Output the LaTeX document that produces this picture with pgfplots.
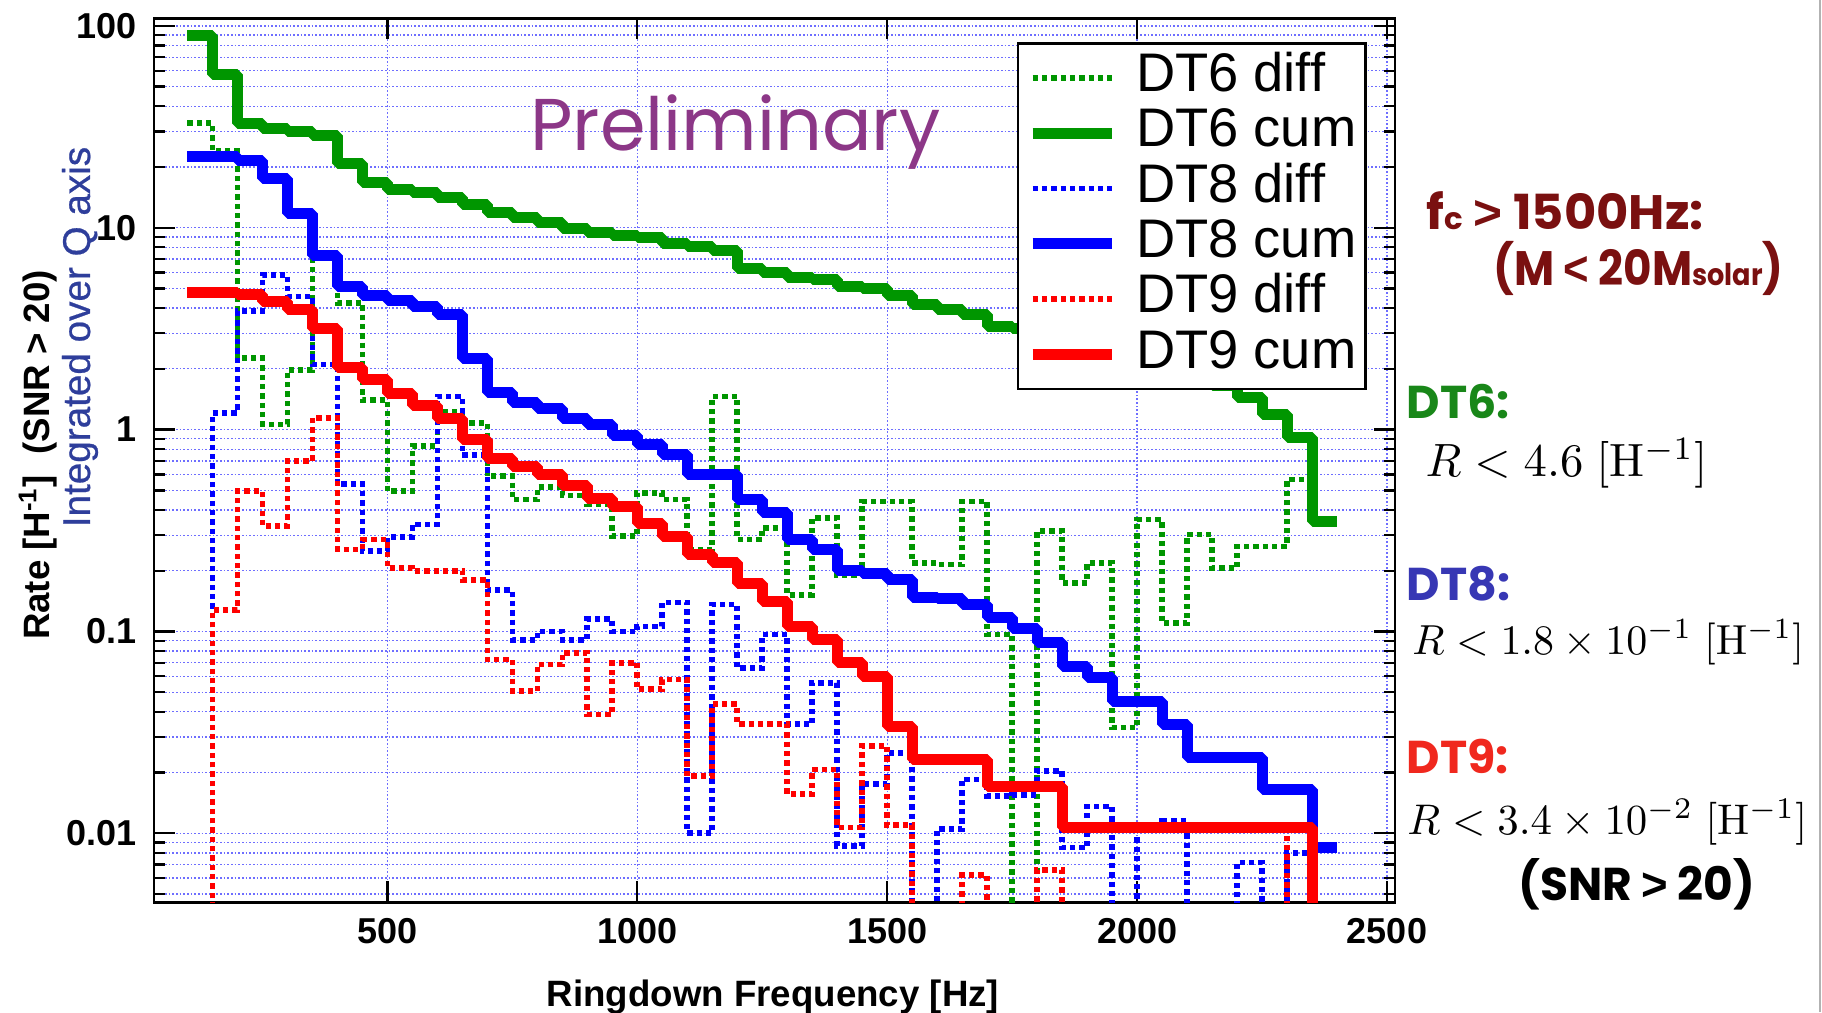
\documentclass[border=0pt]{standalone}
\usepackage[no-math]{fontspec}
\setmainfont{Liberation Sans}
\newfontfamily\popfont{Poppins}
\newfontfamily\libfont{Liberation Sans}
\newfontfamily\medfont{Liberation Sans}[FakeBold=0.6]
\usepackage{graphicx}
\usepackage{pgfplots}
\usepackage{pgfplotstable}
\pgfplotsset{compat=1.18}

\definecolor{cgreen}{RGB}{0,150,0}
\definecolor{cblue}{RGB}{0,0,255}
\definecolor{cred}{RGB}{255,0,0}
\definecolor{gridblue}{RGB}{110,110,255}
\definecolor{prelim}{RGB}{140,55,135}
\definecolor{annred}{RGB}{122,16,16}
\definecolor{anngreen}{RGB}{25,135,25}
\definecolor{annblue}{RGB}{55,55,180}
\definecolor{annred2}{RGB}{240,40,30}
\definecolor{labblue}{RGB}{46,62,155}

% rates per 50 Hz bin (left bin edge); 1e-4 marks an empty bin
\pgfplotstableread{
f     dtsixd  dtsixc  dteightd dteightc dtnined dtninec
100   33      89.6    1e-4     22.5     1e-4    4.79
150   24      57.2    1.21     22.5     0.128   4.79
200   2.26    33.0    3.86     21.5     0.495   4.69
250   1.06    31.2    5.85     17.6     0.333   4.3
300   1.98    30.0    4.57     11.7     0.70    3.95
350   7.1     28.5    2.1      7.26     1.14    3.18
400   4.24    20.7    0.537    5.12     0.255   2.02
450   1.40    16.8    0.25     4.6      0.285   1.77
500   0.495   15.4    0.294    4.37     0.206   1.51
550   0.83    14.9    0.339    4.08     0.20    1.32
600   1.22    14.2    1.46     3.71     0.20    1.14
650   1.08    13.0    0.75     2.26     0.18    0.89
700   0.59    11.9    0.16     1.52     0.0726  0.72
750   0.45    11.2    0.091    1.36     0.0507  0.66
800   0.52    10.6    0.10     1.27     0.0687  0.60
850   0.472   9.9     0.091    1.14     0.0785  0.53
900   0.425   9.5     0.115    1.06     0.0388  0.455
950   0.297   9.2     0.10     0.94     0.07    0.417
1000  0.486   8.9     0.106    0.84     0.0517  0.343
1050  0.45    8.4     0.139    0.75     0.0578  0.294
1100  0.255   8.07    0.01     0.60     0.0192  0.24
1150  1.46    7.72    0.136    0.60     0.0436  0.219
1200  0.285   6.3     0.066    0.45     0.0347  0.173
1250  0.326   5.97    0.0966   0.387    0.0347  0.141
1300  0.152   5.68    0.0347   0.285    0.0156  0.106
1350  0.366   5.55    0.0557   0.255    0.0207  0.091
1400  0.19    5.13    0.00865  0.20     0.0107  0.070
1450  0.44    5.0     0.0175   0.194    0.027   0.060
1500  0.44    4.6     0.025    0.18     0.011   0.034
1550  0.219   4.18    1e-4     0.148    1e-4    0.0232
1600  0.215   3.93    0.0105   0.145    1e-4    0.0232
1650  0.44    3.7     0.0185   0.136    0.0062  0.0232
1700  0.0966  3.25    0.0153   0.117    1e-4    0.0171
1750  1e-4    3.16    0.0155   0.104    1e-4    0.0171
1800  0.314   3.16    0.0204   0.0885   0.0066  0.0171
1850  0.174   2.85    0.0085   0.0673   1e-4    0.0107
1900  0.219   2.67    0.0136   0.059    1e-4    0.0107
1950  0.0334  2.45    1e-4     0.0452   1e-4    0.0107
2000  0.358   2.42    0.011    0.0452   1e-4    0.0107
2050  0.11    2.06    0.0115   0.0347   1e-4    0.0107
2100  0.302   1.95    1e-4     0.0237   1e-4    0.0107
2150  0.206   1.65    1e-4     0.0237   1e-4    0.0107
2200  0.264   1.44    0.00716  0.0237   1e-4    0.0107
2250  0.264   1.19    1e-4     0.0165   1e-4    0.0107
2300  0.565   0.91    0.008    0.0165   0.0107  0.0107
2350  0.35    0.35    0.0085   0.0085   1e-4    1e-4
2400  0.35    0.35    0.0085   0.0085   1e-4    1e-4
}\rates

\pgfplotsset{
  diff/.style={const plot, no marks, line width=1.7pt, dash pattern=on 1.6pt off 1.2pt},
  cum/.style={const plot, no marks, line width=3.3pt, line join=bevel},
}

\begin{document}
\begin{tikzpicture}
\useasboundingbox (0,0) rectangle (546.6pt,303.6pt);
\begin{axis}[
  at={(46.2pt,32.9pt)}, anchor=south west,
  width=372.3pt, height=265.2pt, scale only axis,
  xmin=33, xmax=2516, ymin=0.00455, ymax=109,
  ymode=log,
  xtick={500,1000,1500,2000,2500},
  xticklabels={500,1000,1500,2000,2500},
  ytick={0.01,0.1,1,10,100},
  yticklabels={0.01,0.1,1,10,100},
  minor ytick={0.005,0.006,0.007,0.008,0.009,0.02,0.03,0.04,0.05,0.06,0.07,0.08,0.09,
               0.2,0.3,0.4,0.5,0.6,0.7,0.8,0.9,2,3,4,5,6,7,8,9,20,30,40,50,60,70,80,90},
  xmajorgrids, ymajorgrids, yminorgrids,
  grid style={gridblue, line width=0.38pt, dash pattern=on 0.5pt off 0.6pt},
  minor grid style={gridblue, line width=0.38pt, dash pattern=on 0.5pt off 0.6pt},
  tick align=inside,
  major tick length=6.3pt, minor tick length=3.3pt,
  axis line style={line width=0.75pt},
  every tick/.style={black, line width=0.7pt},
  ticklabel style={font=\fontsize{10.8}{10.8}\selectfont\bfseries},
  xticklabel style={inner sep=0pt, yshift=-4.5pt},
  yticklabel style={inner sep=0pt, xshift=-5.1pt},
  legend style={
    at={(0.6952,0.9729)}, anchor=north west,
    draw=black, line width=0.75pt, fill=white,
    font=\fontsize{16.3}{16.3}\selectfont,
    inner xsep=2.7pt, inner ysep=2pt, row sep=0pt,
    nodes={inner sep=0pt, text height=12.4pt, text depth=4.2pt},
    cells={anchor=west},
    /tikz/every odd column/.append style={column sep=5.7pt},
  },
  legend image code/.code={\draw[#1] (0pt,0pt) -- (23.7pt,0pt);},
]
\addplot[diff, cgreen] table[x=f, y=dtsixd] {\rates};
\addlegendentry{DT6 diff}
\addplot[cum, cgreen] table[x=f, y=dtsixc] {\rates};
\addlegendentry{DT6 cum}
\addplot[diff, cblue] table[x=f, y=dteightd] {\rates};
\addlegendentry{DT8 diff}
\addplot[cum, cblue] table[x=f, y=dteightc] {\rates};
\addlegendentry{DT8 cum}
\addplot[diff, cred] table[x=f, y=dtnined] {\rates};
\addlegendentry{DT9 diff}
\addplot[cum, cred] table[x=f, y=dtninec] {\rates};
\addlegendentry{DT9 cum}
\end{axis}

% watermark
\node[anchor=base west, inner sep=0pt, text=prelim, font=\popfont\fontsize{22}{22}\selectfont]
  at (158.9pt,258.6pt) {Preliminary};

% axis titles
\node[anchor=base, inner sep=0pt, font=\fontsize{11}{11}\selectfont\bfseries]
  at (231.9pt,1.8pt) {Ringdown Frequency [Hz]};
\node[rotate=90, inner sep=0pt, font=\fontsize{11}{11}\selectfont\bfseries]
  at (11.4pt,167.1pt) {Rate [H\textsuperscript{-1}]\ \ (SNR > 20)};
\node[rotate=90, inner sep=0pt, text=labblue, font=\medfont\fontsize{11.6}{11.6}\selectfont]
  at (24pt,202.5pt) {Integrated over Q axis};

% upper limits for f_c > 1500 Hz
\begin{scope}[every node/.style={anchor=base west, inner sep=0pt}]
\node[text=annred, font=\popfont\bfseries\fontsize{14.5}{14.5}\selectfont] at (427.8pt,234.9pt)
  {\resizebox{83.1pt}{\height}{f{\fontsize{9}{9}\selectfont c}\ {\libfont\bfseries >}\ 1500Hz:}};
\node[text=annred, font=\popfont\bfseries\fontsize{14.5}{14.5}\selectfont] at (447.9pt,218.1pt)
  {\resizebox{87pt}{\height}{(M\ {\libfont\bfseries <}\ 20M{\fontsize{9}{9}\selectfont solar})}};
\node[text=anngreen, font=\popfont\bfseries\fontsize{13.8}{13.8}\selectfont] at (421.8pt,178.2pt) {DT6:};
\node at (427.5pt,160.8pt) {\resizebox{84.5pt}{!}{$R < 4.6\;[\mathrm{H}^{-1}]$}};
\node[text=annblue, font=\popfont\bfseries\fontsize{13.8}{13.8}\selectfont] at (421.8pt,123.6pt) {DT8:};
\node at (423.5pt,107.4pt) {\resizebox{117.5pt}{!}{$R < 1.8\times10^{-1}\;[\mathrm{H}^{-1}]$}};
\node[text=annred2, font=\popfont\bfseries\fontsize{13.8}{13.8}\selectfont] at (421.8pt,71.7pt) {DT9:};
\node at (422pt,53.4pt) {\resizebox{120pt}{!}{$R < 3.4\times10^{-2}\;[\mathrm{H}^{-1}]$}};
\node[font=\popfont\bfseries\fontsize{13.8}{13.8}\selectfont] at (455.3pt,33.6pt)
  {\resizebox{71.1pt}{\height}{(SNR\ {\libfont\bfseries >}\ 20)}};
\end{scope}

\draw[black!30, line width=0.6pt] (546.1pt,0pt) -- (546.1pt,303.6pt);
\end{tikzpicture}
\end{document}
